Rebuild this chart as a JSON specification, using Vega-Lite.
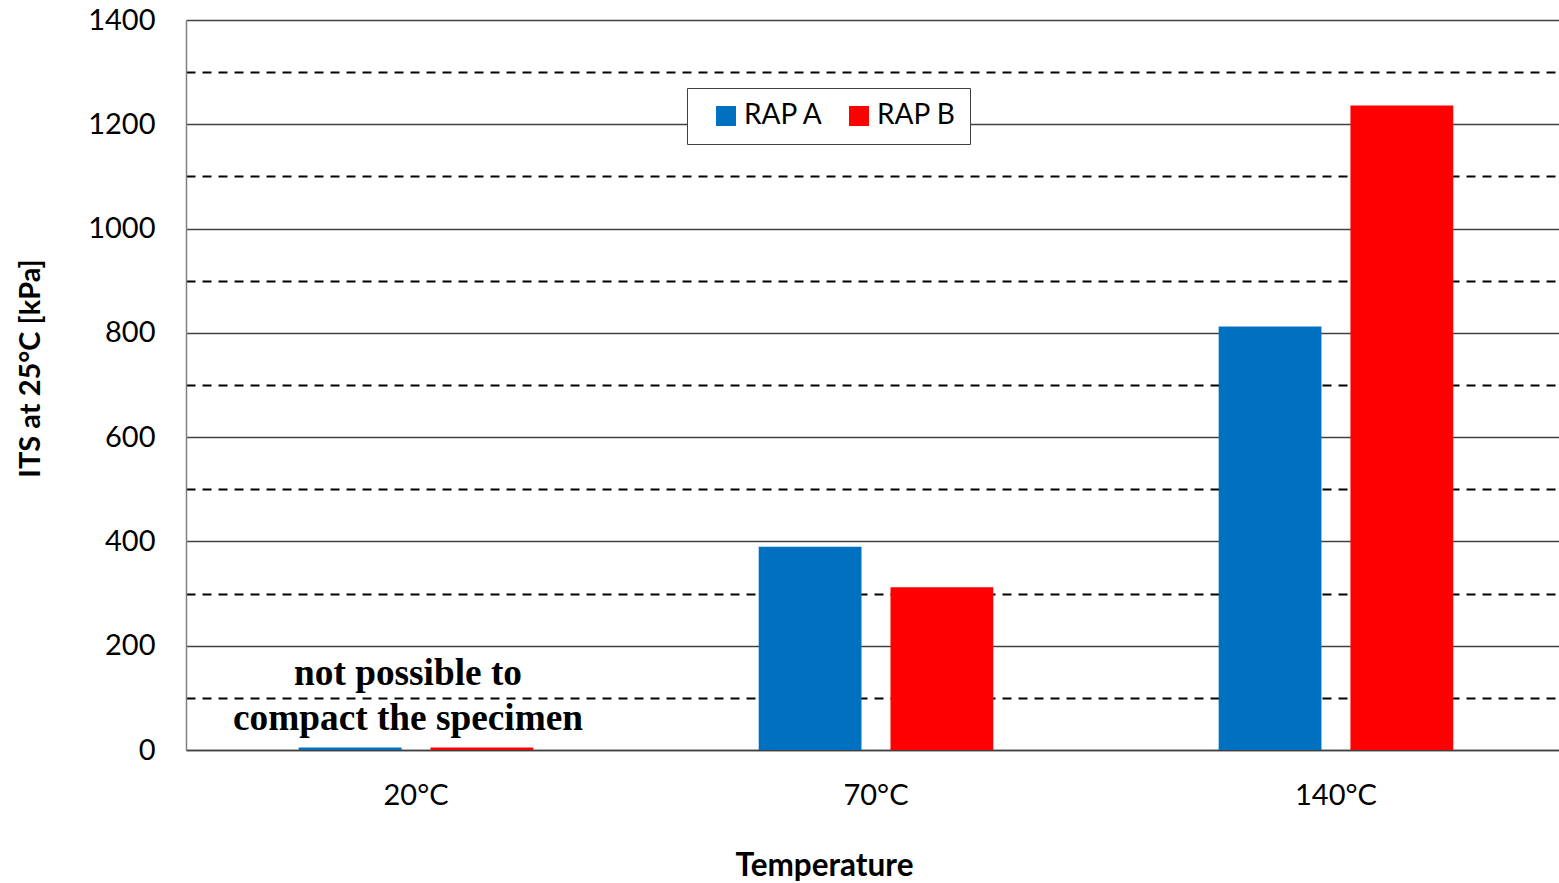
{
  "$schema": "https://vega.github.io/schema/vega-lite/v6.json",
  "width": 1373,
  "height": 730,
  "autosize": {"type": "none"},
  "padding": {"left": 186, "top": 20, "right": 0, "bottom": 133},
  "background": "white",
  "config": {"view": {"stroke": null}, "font": "Lato"},
  "layer": [
    {
      "data": {
        "values": [
          {"Temperature": "20°C", "Mix": "RAP A", "ITS": 5},
          {"Temperature": "20°C", "Mix": "RAP B", "ITS": 5},
          {"Temperature": "70°C", "Mix": "RAP A", "ITS": 390},
          {"Temperature": "70°C", "Mix": "RAP B", "ITS": 312},
          {"Temperature": "140°C", "Mix": "RAP A", "ITS": 812},
          {"Temperature": "140°C", "Mix": "RAP B", "ITS": 1236}
        ]
      },
      "mark": {"type": "bar"},
      "encoding": {
        "x": {
          "field": "Temperature",
          "type": "nominal",
          "sort": ["20°C", "70°C", "140°C"],
          "scale": {"paddingInner": 0.49, "paddingOuter": 0.2375, "align": 0.516},
          "axis": {
            "title": "Temperature",
            "labelAngle": 0,
            "labelFontSize": 29,
            "labelColor": "#000000",
            "labelPadding": 31,
            "ticks": false,
            "domainColor": "#404040",
            "domainWidth": 1.5,
            "titleFontSize": 31.5,
            "titleFontWeight": "bold",
            "titleColor": "#000000",
            "titleBaseline": "alphabetic",
            "titleX": 638,
            "titleY": 125
          }
        },
        "xOffset": {
          "field": "Mix",
          "type": "nominal",
          "scale": {"paddingInner": 0.22, "paddingOuter": 0}
        },
        "y": {
          "field": "ITS",
          "type": "quantitative",
          "scale": {"domain": [0, 1400], "nice": false},
          "axis": {
            "title": "ITS at 25°C [kPa]",
            "values": [0, 100, 200, 300, 400, 500, 600, 700, 800, 900, 1000, 1100, 1200, 1300, 1400],
            "labelExpr": "datum.value % 200 === 0 ? datum.label : ''",
            "format": "d",
            "labelFontSize": 29,
            "labelColor": "#000000",
            "labelPadding": 31,
            "ticks": false,
            "domainColor": "#808080",
            "domainWidth": 1.5,
            "grid": true,
            "gridColor": {"condition": {"test": "datum.value % 200 === 100", "value": "#000000"}, "value": "#404040"},
            "gridWidth": {"condition": {"test": "datum.value % 200 === 100", "value": 2}, "value": 1.3},
            "gridDash": {"condition": {"test": "datum.value % 200 === 100", "value": [9, 7]}, "value": []},
            "gridOpacity": 1,
            "titleFontSize": 29,
            "titleFontWeight": "bold",
            "titleColor": "#000000",
            "titleBaseline": "alphabetic",
            "titleX": -147,
            "titleY": 348
          }
        },
        "color": {
          "field": "Mix",
          "type": "nominal",
          "scale": {"domain": ["RAP A", "RAP B"], "range": ["#0070C0", "#FF0000"]},
          "legend": {
            "title": null,
            "orient": "none",
            "legendX": 501,
            "legendY": 68,
            "direction": "horizontal",
            "fillColor": "white",
            "strokeColor": "#404040",
            "padding": 14,
            "symbolOffset": 11,
            "symbolType": "square",
            "symbolSize": 400,
            "symbolStrokeWidth": 0,
            "labelFontSize": 28,
            "labelColor": "#000000",
            "labelOffset": 4,
            "columnPadding": 10
          }
        }
      }
    },
    {
      "data": {"values": [{"Temperature": "20°C", "note": "not possible to\ncompact the specimen"}]},
      "mark": {
        "type": "text",
        "font": "Liberation Serif",
        "fontWeight": "bold",
        "fontSize": 37.3,
        "lineHeight": 45,
        "lineBreak": "\n",
        "baseline": "alphabetic",
        "align": "center",
        "dx": -8,
        "color": "#000000"
      },
      "encoding": {
        "x": {"field": "Temperature", "type": "nominal", "sort": ["20°C", "70°C", "140°C"]},
        "y": {"datum": 125},
        "text": {"field": "note", "type": "nominal"}
      }
    }
  ]
}
